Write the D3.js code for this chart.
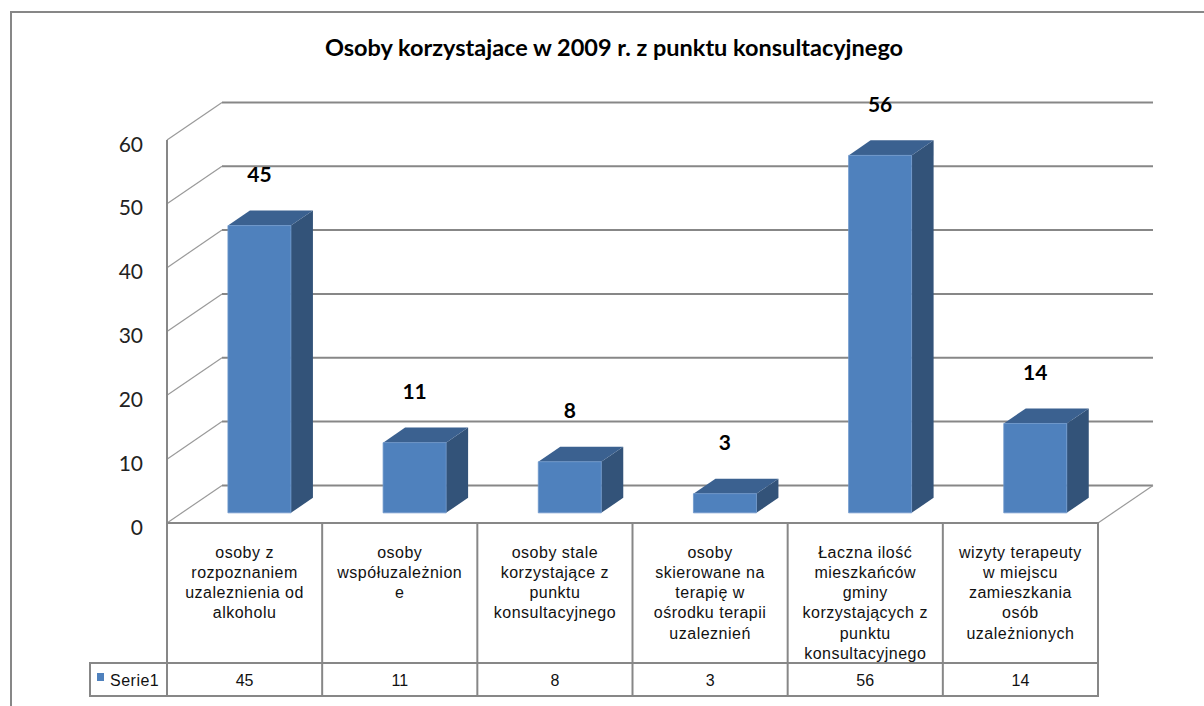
<!DOCTYPE html>
<html>
<head>
<meta charset="utf-8">
<script src="https://cdn.jsdelivr.net/npm/d3@7"></script>
<style>
  body { margin: 0; background: #fff; }
  svg { display: block; }
</style>
</head>
<body>
<div class="chart"></div>
<script>

var title = "Osoby korzystajace w 2009 r. z punktu konsultacyjnego";
var seriesName = "Serie1";
var categories = [
    ["osoby z", "rozpoznaniem", "uzaleznienia od", "alkoholu"],
    ["osoby", "współuzależnion", "e"],
    ["osoby stale", "korzystające z", "punktu", "konsultacyjnego"],
    ["osoby", "skierowane na", "terapię w", "ośrodku terapii", "uzaleznień"],
    ["Łaczna ilość", "mieszkańców", "gminy", "korzystających z", "punktu", "konsultacyjnego"],
    ["wizyty terapeuty", "w miejscu", "zamieszkania", "osób", "uzależnionych"]
];
var values = [45, 11, 8, 3, 56, 14];
var yTicks = [0, 10, 20, 30, 40, 50, 60];

var width = 1204, height = 706;
var plotLeft = 167, plotRight = 1098, plotBottom = 523, plotTop = 140;
var depthX = 55, depthY = -37.6;   // offset of the back wall
var rowBottom = 663, tableBottom = 696, legendLeft = 90;
var gridColor = "#878787";
var tableFont = "'Liberation Sans', Arial, sans-serif";

var svg = d3.select('.chart')
    .append('svg')
    .attr('width', width)
    .attr('height', height);

// depth projection: d = 0 front, d = 1 back wall
function p(px, py, d) {
    return [px + d * depthX, py + d * depthY];
}

var x = d3.scaleBand()
    .domain(d3.range(categories.length))
    .range([plotLeft, plotRight]);

var y = d3.scaleLinear()
    .domain([0, 60])
    .range([plotBottom, plotTop]);

// chart frame
svg.append("path")
    .attr("d", "M11," + height + "V12H" + width)
    .attr("fill", "none")
    .attr("stroke", gridColor)
    .attr("stroke-width", 2);

svg.append("text")
    .attr("x", 614)
    .attr("y", 47)
    .attr("text-anchor", "middle")
    .attr("dominant-baseline", "central")
    .style("font-family", "Lato, 'Open Sans', sans-serif")
    .style("font-weight", "bold")
    .style("font-size", "23.5px")
    .text(title);

// back wall gridlines
svg.selectAll(".grid")
    .data(yTicks)
    .enter()
    .append("line")
    .attr("class", "grid")
    .attr("x1", d => p(plotLeft, y(d), 1)[0])
    .attr("y1", d => p(plotLeft, y(d), 1)[1])
    .attr("x2", d => p(plotRight, y(d), 1)[0])
    .attr("y2", d => p(plotRight, y(d), 1)[1])
    .attr("stroke", gridColor)
    .attr("stroke-width", 2);

// side wall diagonals
svg.selectAll(".diag")
    .data(yTicks)
    .enter()
    .append("line")
    .attr("class", "diag")
    .attr("x1", d => p(plotLeft, y(d), 0)[0])
    .attr("y1", d => p(plotLeft, y(d), 0)[1])
    .attr("x2", d => p(plotLeft, y(d), 1)[0])
    .attr("y2", d => p(plotLeft, y(d), 1)[1])
    .attr("stroke", "#9a9a9a")
    .attr("stroke-width", 1.2);

svg.append("line")
    .attr("x1", p(plotRight, y(0), 0)[0])
    .attr("y1", p(plotRight, y(0), 0)[1])
    .attr("x2", p(plotRight, y(0), 1)[0])
    .attr("y2", p(plotRight, y(0), 1)[1])
    .attr("stroke", "#9a9a9a")
    .attr("stroke-width", 1.2);

// front axis line
svg.append("line")
    .attr("x1", plotLeft).attr("x2", plotLeft)
    .attr("y1", y(60)).attr("y2", plotBottom)
    .attr("stroke", gridColor)
    .attr("stroke-width", 2);

svg.selectAll(".ytick")
    .data(yTicks)
    .enter()
    .append("text")
    .attr("class", "ytick")
    .attr("x", 143)
    .attr("y", d => y(d) + 3)
    .attr("text-anchor", "end")
    .attr("dominant-baseline", "central")
    .style("font-family", "Lato, sans-serif")
    .style("font-size", "21px")
    .style("fill", "#222")
    .text(d => d);

// 3d bars
var d0 = 0.27, d1 = 0.67;
var bw = x.bandwidth() * 0.406;
function barX(i) {
    return x(i) + (x.bandwidth() - bw) / 2;
}
function poly(pts) {
    return "M" + pts.map(q => q.join(",")).join("L") + "Z";
}

var bars = svg.selectAll(".bar")
    .data(values)
    .enter()
    .append("g")
    .attr("class", "bar");

bars.append("path")
    .attr("fill", "#335379")
    .attr("d", (d, i) => {
        var xr = barX(i) + bw;
        return poly([p(xr, y(0), d0), p(xr, y(0), d1), p(xr, y(d), d1), p(xr, y(d), d0)]);
    });

bars.append("path")
    .attr("fill", "#3b6190")
    .attr("d", (d, i) => {
        var xl = barX(i), xr = xl + bw;
        return poly([p(xl, y(d), d0), p(xr, y(d), d0), p(xr, y(d), d1), p(xl, y(d), d1)]);
    });

bars.append("path")
    .attr("fill", "#4f81bd")
    .attr("stroke", "#6d97cb")
    .attr("stroke-width", 0.8)
    .attr("d", (d, i) => {
        var xl = barX(i), xr = xl + bw;
        return poly([p(xl, y(0), d0), p(xr, y(0), d0), p(xr, y(d), d0), p(xl, y(d), d0)]);
    });

bars.append("text")
    .attr("x", (d, i) => p(barX(i) + bw / 2, 0, d0)[0])
    .attr("y", d => p(0, y(d), d1)[1] - 37)
    .attr("text-anchor", "middle")
    .attr("dominant-baseline", "central")
    .style("font-family", "Lato, sans-serif")
    .style("font-weight", "bold")
    .style("font-size", "21px")
    .text(d => d);

// data table
var table = svg.append("g")
    .attr("stroke", gridColor)
    .attr("stroke-width", 2)
    .attr("fill", "none");

table.append("path")
    .attr("d", "M" + plotLeft + "," + plotBottom + "H" + plotRight + "V" + tableBottom + "H" + legendLeft +
        "V" + rowBottom + "H" + plotRight);

table.selectAll(".col")
    .data(d3.range(categories.length))
    .enter()
    .append("line")
    .attr("class", "col")
    .attr("x1", d => x(d)).attr("x2", d => x(d))
    .attr("y1", plotBottom).attr("y2", tableBottom);

svg.append("clipPath")
    .attr("id", "cells")
    .append("rect")
    .attr("x", plotLeft).attr("y", plotBottom + 1)
    .attr("width", plotRight - plotLeft).attr("height", rowBottom - plotBottom - 2);

var labels = svg.append("g")
    .attr("clip-path", "url(#cells)")
    .style("font-family", tableFont)
    .style("font-size", "16px")
    .style("letter-spacing", "0.5px")
    .style("fill", "#111");

categories.forEach((lines, i) => {
    labels.append("text")
        .attr("text-anchor", "middle")
        .selectAll("tspan")
        .data(lines)
        .enter()
        .append("tspan")
        .attr("x", x(i) + x.bandwidth() / 2)
        .attr("y", (d, k) => 552 + k * 20.3)
        .attr("dominant-baseline", "central")
        .text(d => d);
});

svg.selectAll(".val")
    .data(values)
    .enter()
    .append("text")
    .attr("class", "val")
    .attr("x", (d, i) => x(i) + x.bandwidth() / 2)
    .attr("y", 680)
    .attr("text-anchor", "middle")
    .attr("dominant-baseline", "central")
    .style("font-family", tableFont)
    .style("font-size", "16px")
    .style("fill", "#111")
    .text(d => d);

svg.append("rect")
    .attr("x", 97).attr("y", 673)
    .attr("width", 7).attr("height", 8)
    .attr("fill", "#4f81bd");

svg.append("text")
    .attr("x", 110)
    .attr("y", 680)
    .attr("dominant-baseline", "central")
    .style("font-family", tableFont)
    .style("font-size", "16px")
    .style("letter-spacing", "0.5px")
    .style("fill", "#111")
    .text(seriesName);

</script>
</body>
</html>
